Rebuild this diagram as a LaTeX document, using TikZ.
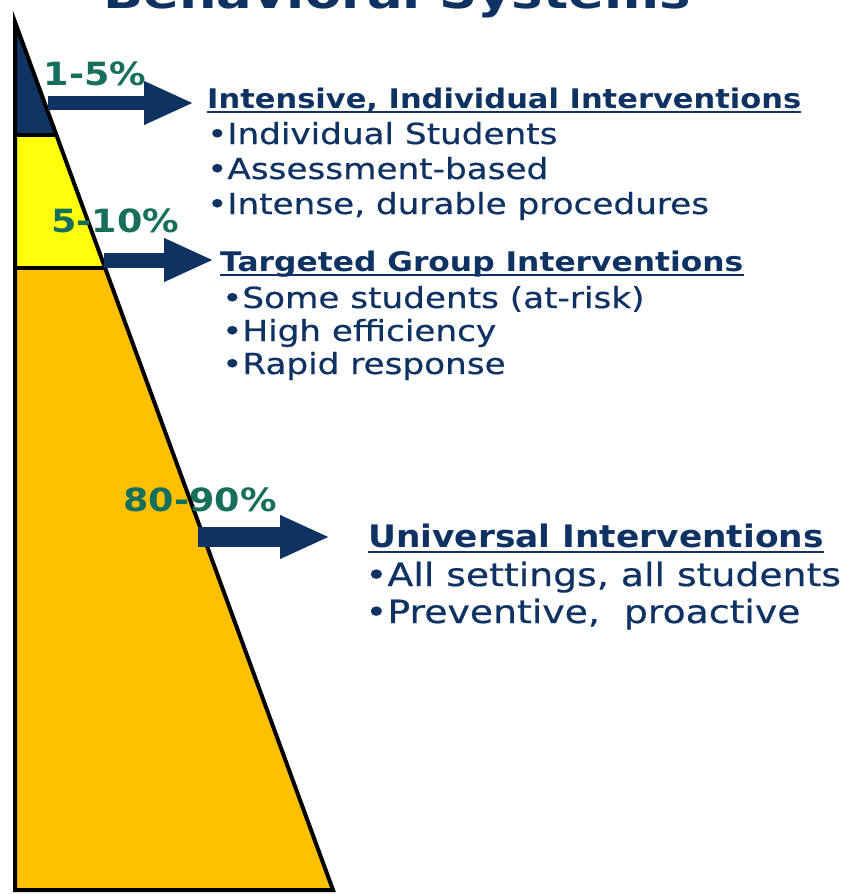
\documentclass[tikz,border=0pt]{standalone}
\usepackage{fontspec}
\setmainfont{DejaVu Sans}
\newfontfamily\bodyf{DejaVu Sans}[FakeStretch=1.18,FakeBold=0.5]
\newfontfamily\headf{DejaVu Sans}[FakeStretch=1.13]
\newfontfamily\headtwof{DejaVu Sans}[FakeStretch=1.16]
\newfontfamily\headthreef{DejaVu Sans}[FakeStretch=1.11]
\newfontfamily\titlef{DejaVu Sans}[FakeStretch=1.2]
\newfontfamily\pctf{DejaVu Sans}[FakeStretch=1.14]
\usetikzlibrary{arrows.meta,calc}
\definecolor{navy}{RGB}{14,50,98}
\definecolor{tierblue}{RGB}{16,52,100}
\definecolor{tieryellow}{RGB}{255,255,10}
\definecolor{tierorange}{RGB}{255,192,0}
\definecolor{pctgreen}{RGB}{22,110,92}
\tikzset{
  head/.style={anchor=base west, inner sep=0pt, text=navy, font=\headf\bfseries\fontsize{27}{32}\selectfont},
  headtwo/.style={anchor=base west, inner sep=0pt, text=navy, font=\headtwof\bfseries\fontsize{27}{32}\selectfont},
  headbig/.style={anchor=base west, inner sep=0pt, text=navy, font=\headthreef\bfseries\fontsize{31}{36}\selectfont},
  bodytxt/.style={anchor=base west, inner sep=0pt, text=navy, font=\bodyf\fontsize{29}{34}\selectfont},
  bodybig/.style={anchor=base west, inner sep=0pt, text=navy, font=\bodyf\fontsize{32}{38}\selectfont},
  pct/.style={inner sep=0pt, text=pctgreen, font=\pctf\bfseries\fontsize{32}{38}\selectfont},
  bigarrow/.style={draw=navy, -{Triangle[length=50pt,width=40pt]}},
  uline/.style={draw=navy, line width=1.6pt},
  edge/.style={draw=black, line width=4pt, line join=miter}
}
\begin{document}
\begin{tikzpicture}[x=1pt,y=-1pt]
\useasboundingbox (0,0) rectangle (862,894);
\clip (0,0) rectangle (862,894);
\fill[white] (0,0) rectangle (862,894);
% title (cut off at top, as in the reference)
\node[anchor=base, inner sep=0pt, text=navy, font=\titlef\bfseries\fontsize{44}{50}\selectfont] (title) at (397,9) {Behavioral Systems};
% pyramid corners
\coordinate (apex) at (15,22);
\coordinate (bl) at (15,890);
\coordinate (br) at (333,890);
\coordinate (l1) at (15,135);
\coordinate (r1) at (56.4,135);
\coordinate (l2) at (15,268);
\coordinate (r2) at (105.1,268);
\fill[tierblue] (apex) -- (r1) -- (l1) -- cycle;
\fill[tieryellow] (l1) -- (r1) -- (r2) -- (l2) -- cycle;
\fill[tierorange] (l2) -- (r2) -- (br) -- (bl) -- cycle;
\draw[edge] (l1) -- (r1);
\draw[edge] (l2) -- (r2);
\draw[edge] (apex) -- (br) -- (bl) -- cycle;
% percentages
\node[pct] (p1) at (95,74) {1-5\%};
\node[pct] (p2) at (115,221) {5-10\%};
\node[pct] (p3) at (200,500) {80-90\%};
% block 1
\node[head] (h1) at (207,108) {Intensive, Individual Interventions};
\node[bodytxt] (b11) at (207,144) {•Individual Students};
\node[bodytxt] (b12) at (207,179) {•Assessment-based};
\node[bodytxt] (b13) at (207,214) {•Intense, durable procedures};
% block 2
\node[headtwo] (h2) at (220,271) {Targeted Group Interventions};
\node[bodytxt] (b21) at (222,308) {•Some students (at-risk)};
\node[bodytxt] (b22) at (222,341) {•High efficiency};
\node[bodytxt] (b23) at (222,374) {•Rapid response};
% block 3
\node[headbig] (h3) at (368,547) {Universal Interventions};
\node[bodybig] (b31) at (365,586) {•All settings, all students};
\node[bodybig] (b32) at (365,623) {•Preventive,\ \ proactive};
% underlines
\draw[uline] ($(h1.base west)+(0,4)$) -- ($(h1.base east)+(0,4)$);
\draw[uline] ($(h2.base west)+(0,4)$) -- ($(h2.base east)+(0,4)$);
\draw[uline] ($(h3.base west)+(0,5)$) -- ($(h3.base east)+(0,5)$);
% arrows
\coordinate (a1) at (48,103);
\coordinate (a2) at (104,260);
\coordinate (a3) at (198,537);
\draw[bigarrow, line width=14pt] (a1) -- ([xshift=-13pt]a1 -| h1.west);
\draw[bigarrow, line width=15pt] (a2) -- ([xshift=-6pt]a2 -| h2.west);
\draw[bigarrow, line width=20pt] (a3) -- ([xshift=-38pt]a3 -| h3.west);
\end{tikzpicture}
\end{document}
